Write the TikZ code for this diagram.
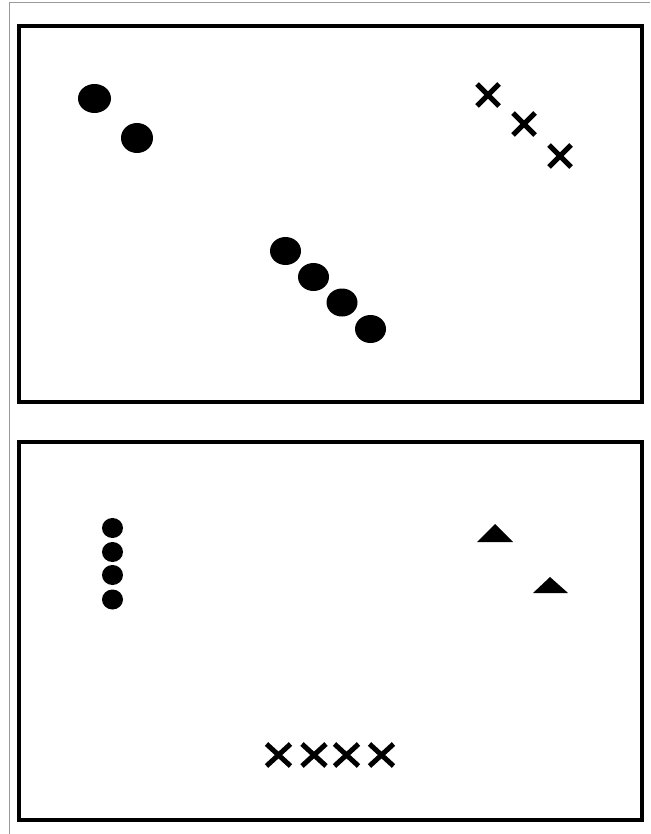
\documentclass[tikz,border=0pt]{standalone}
\begin{document}
\begin{tikzpicture}[x=1pt,y=-1pt,
  frame/.style={draw=black,line width=4pt},
  outer/.style={draw=black!40,line width=1.5pt},
  dot/.style={fill=black},
  xmark/.style={draw=black,line width=5pt},
  tri/.style={fill=black}]
\useasboundingbox (0,0) rectangle (650,834);
\fill[white] (0,0) rectangle (650,834);
% outer thin gray lines
\draw[outer] (9.5,834) -- (9.5,2.5) -- (650,2.5);
% frames
\draw[frame] (19,26) rectangle (642,402);
\draw[frame] (19,442) rectangle (642,820);
% top panel dots
\fill[dot] (94.5,98.5) ellipse [x radius=16.5,y radius=14.5];
\fill[dot] (137,138) ellipse [x radius=16,y radius=15];
\foreach \cx/\cy in {285.5/251, 313.5/277, 342/302.5, 370.5/329}
  \fill[dot] (\cx,\cy) ellipse [x radius=15.5,y radius=14];
% top panel crosses
\foreach \cx/\cy in {488/95, 524/124, 560/156}
  \draw[xmark] (\cx-11,\cy-11) -- (\cx+11,\cy+11) (\cx-11,\cy+11) -- (\cx+11,\cy-11);
% bottom panel dots
\foreach \cy in {528, 552, 575, 599.5}
  \fill[dot] (112.5,\cy) ellipse [x radius=10.5,y radius=10];
% triangles
\fill[tri] (477,542) -- (495,524) -- (513,542) -- cycle;
\fill[tri] (533,593) -- (550,577) -- (568,593) -- cycle;
% bottom crosses
\foreach \cx in {278.5, 314, 346.5, 381.5}
  \draw[xmark] (\cx-12,744) -- (\cx+12,766) (\cx-12,766) -- (\cx+12,744);
\end{tikzpicture}
\end{document}
